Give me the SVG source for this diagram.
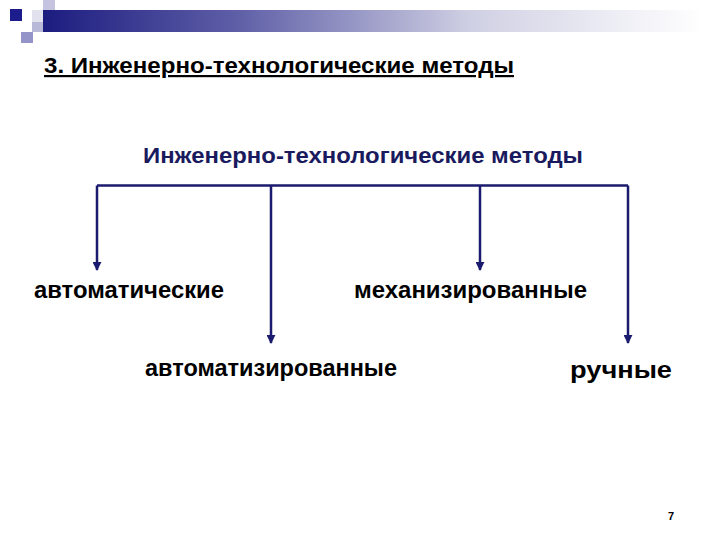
<svg xmlns="http://www.w3.org/2000/svg" width="720" height="540" viewBox="0 0 720 540">
<defs>
<linearGradient id="bar" x1="0" y1="0" x2="1" y2="0">
<stop offset="0" stop-color="#1c1c80"/>
<stop offset="0.3" stop-color="#6060a8"/>
<stop offset="0.65" stop-color="#d0d0e4"/>
<stop offset="1" stop-color="#ffffff"/>
</linearGradient>
<marker id="arr" viewBox="0 0 10 10" refX="9" refY="5" markerWidth="3.6" markerHeight="3.6" orient="auto" markerUnits="strokeWidth">
<path d="M0,0 L10,5 L0,10 z" fill="#1a1a6e"/>
</marker>
<style>
.t{font-family:"Liberation Sans",Arial,sans-serif;font-weight:bold;fill:#000}
.lbl{font-size:23px}
.c{fill:none;stroke:#1a1a6e;stroke-width:2.5}
</style>
</defs>
<rect width="720" height="540" fill="#ffffff"/>
<g id="decor">
<rect x="43" y="10" width="660" height="22" fill="url(#bar)"/>
<rect x="43" y="0" width="12" height="10" fill="#c4c4e0"/>
<rect x="32" y="10" width="11" height="22" fill="#e2e2ee"/>
<rect x="32" y="22" width="11" height="10" fill="#b8b8d8"/>
<rect x="21" y="32" width="12" height="11" fill="#9494c8"/>
<rect x="10" y="9" width="12" height="12" fill="#1c1c8c"/>
</g>
<g id="title">
<text class="t" x="44" y="73" font-size="22" textLength="470" lengthAdjust="spacingAndGlyphs" text-decoration="underline">3. Инженерно-технологические методы</text>
</g>
<g id="root">
<text class="t" x="143" y="163" font-size="22" style="fill:#1a1a5e" textLength="440" lengthAdjust="spacingAndGlyphs">Инженерно-технологические методы</text>
</g>
<g id="connectors">
<path class="c" d="M97,185.5 H628"/>
<path class="c" d="M97,185.5 V270" marker-end="url(#arr)"/>
<path class="c" d="M271,185.5 V343" marker-end="url(#arr)"/>
<path class="c" d="M480,185.5 V270" marker-end="url(#arr)"/>
<path class="c" d="M628,185.5 V343" marker-end="url(#arr)"/>
</g>
<g id="n1"><text class="t lbl" x="34" y="298" textLength="190" lengthAdjust="spacingAndGlyphs">автоматические</text></g>
<g id="n2"><text class="t lbl" x="145" y="376" textLength="252" lengthAdjust="spacingAndGlyphs">автоматизированные</text></g>
<g id="n3"><text class="t lbl" x="354" y="298" textLength="233" lengthAdjust="spacingAndGlyphs">механизированные</text></g>
<g id="n4"><text class="t lbl" x="570" y="378" textLength="102" lengthAdjust="spacingAndGlyphs">ручные</text></g>
<g id="page"><text class="t" x="668" y="520" font-size="11">7</text></g>
</svg>
